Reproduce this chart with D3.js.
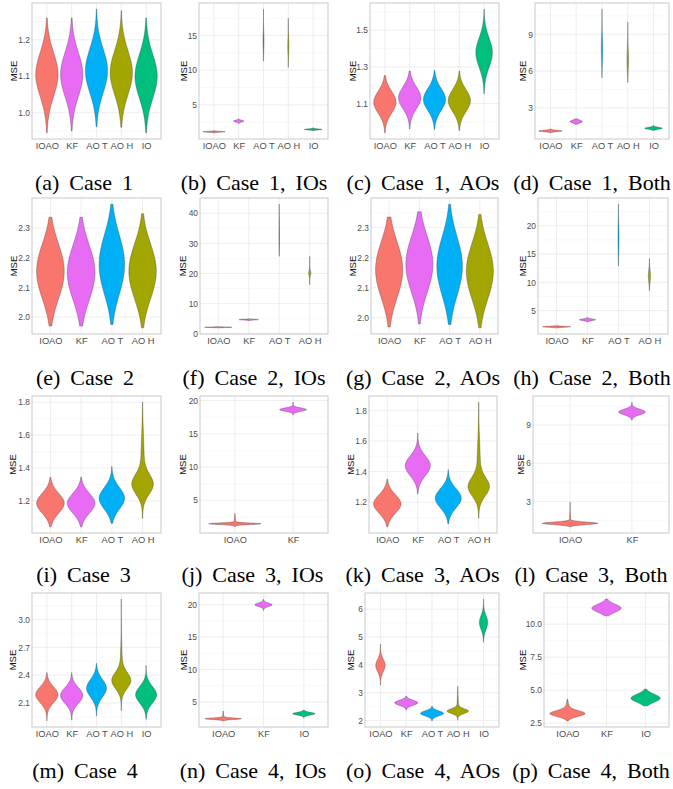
<!DOCTYPE html>
<html><head><meta charset="utf-8">
<script src="https://cdn.jsdelivr.net/npm/d3@7"></script>
<style>html,body{margin:0;padding:0;background:#fff;}</style>
</head><body>
<script>
// ---- DATA: each violin = [category, min, max, density components [centre, spread, weight]] ----
const captions = ["(a) Case 1","(b) Case 1, IOs","(c) Case 1, AOs","(d) Case 1, Both",
  "(e) Case 2","(f) Case 2, IOs","(g) Case 2, AOs","(h) Case 2, Both",
  "(i) Case 3","(j) Case 3, IOs","(k) Case 3, AOs","(l) Case 3, Both",
  "(m) Case 4","(n) Case 4, IOs","(o) Case 4, AOs","(p) Case 4, Both"];
const yTitle = "MSE";

const violinsA = [["IOAO",0.945,1.26,[[1.105,0.06,1]]],["KF",0.95,1.26,[[1.105,0.06,1]]],["AO T",0.962,1.284,[[1.115,0.06,1]]],["AO H",0.96,1.28,[[1.11,0.06,1]]],["IO",0.945,1.26,[[1.10,0.06,1]]]];
const ticksA = ["1.0","1.1","1.2"];
const violinsB = [["IOAO",0.96,1.27,[[1.11,0.06,1]]],["KF",2.3,3.0,[[2.65,0.13,1]]],["AO T",11.3,18.8,[[14.2,1.3,1]]],["AO H",10.4,17.5,[[13.5,1.2,1]]],["IO",1.25,1.7,[[1.45,0.075,1]]]];
const ticksB = ["5","10","15"];
const violinsC = [["IOAO",0.94,1.253,[[1.107,0.06,1]]],["KF",0.961,1.277,[[1.131,0.06,1]]],["AO T",0.958,1.281,[[1.122,0.06,1]]],["AO H",0.952,1.277,[[1.116,0.06,1]]],["IO",1.153,1.615,[[1.378,0.08,1]]]];
const ticksC = ["1.1","1.3","1.5"];
const violinsD = [["IOAO",0.96,1.27,[[1.11,0.06,1]]],["KF",1.65,2.1,[[1.88,0.12,1]]],["AO T",5.44,11.05,[[7.77,1.0,1]]],["AO H",5.08,10.0,[[6.95,0.9,1]]],["IO",1.15,1.55,[[1.33,0.08,1]]]];
const ticksD = ["3","6","9"];
const violinsE = [["IOAO",1.97,2.336,[[2.094,0.07,0.33],[2.154,0.07,0.34],[2.214,0.07,0.33]]],["KF",1.97,2.336,[[2.09,0.07,0.33],[2.15,0.07,0.34],[2.21,0.07,0.33]]],["AO T",1.975,2.38,[[2.112,0.075,0.33],[2.177,0.075,0.34],[2.242,0.075,0.33]]],["AO H",1.964,2.348,[[2.094,0.07,0.33],[2.154,0.07,0.34],[2.214,0.07,0.33]]]];
const ticksE = ["2.0","2.1","2.2","2.3"];
const violinsF = [["IOAO",1.97,2.336,[[2.094,0.07,0.33],[2.154,0.07,0.34],[2.214,0.07,0.33]]],["KF",4.3,5.05,[[4.68,0.12,1]]],["AO T",25.7,43.0,[[32.5,4,1]]],["AO H",16.3,25.7,[[20.1,0.8,0.6],[20.5,2.2,0.4]]]];
const ticksF = ["0","10","20","30","40"];
const violinsG = [["IOAO",1.97,2.335,[[2.10,0.07,0.33],[2.16,0.07,0.34],[2.22,0.07,0.33]]],["KF",1.98,2.353,[[2.118,0.07,0.33],[2.178,0.07,0.34],[2.238,0.07,0.33]]],["AO T",1.978,2.378,[[2.11,0.075,0.33],[2.172,0.075,0.34],[2.234,0.075,0.33]]],["AO H",1.967,2.344,[[2.095,0.07,0.33],[2.155,0.07,0.34],[2.215,0.07,0.33]]]];
const ticksG = ["2.0","2.1","2.2","2.3"];
const violinsH = [["IOAO",1.97,2.336,[[2.094,0.07,0.33],[2.154,0.07,0.34],[2.214,0.07,0.33]]],["KF",3.0,3.8,[[3.39,0.15,1]]],["AO T",12.86,23.8,[[17.8,2.5,1]]],["AO H",8.5,14.2,[[11.1,1.1,1]]]];
const ticksH = ["5","10","15","20"];
const violinsI = [["IOAO",1.043,1.344,[[1.186,0.06,1]]],["KF",1.043,1.344,[[1.186,0.06,1]]],["AO T",1.064,1.41,[[1.216,0.065,1]]],["AO H",1.094,1.80,[[1.30,0.06,0.72],[1.45,0.15,0.28]]]];
const ticksI = ["1.2","1.4","1.6","1.8"];
const violinsJ = [["IOAO",1.0,3.0,[[1.45,0.12,0.92],[1.9,0.45,0.08]]],["KF",17.84,19.75,[[18.64,0.25,1]]]];
const ticksJ = ["5","10","15","20"];
const violinsK = [["IOAO",1.04,1.351,[[1.189,0.06,1]]],["KF",1.254,1.652,[[1.438,0.065,1]]],["AO T",1.058,1.412,[[1.226,0.063,1]]],["AO H",1.095,1.853,[[1.30,0.06,0.72],[1.45,0.15,0.28]]]];
const ticksK = ["1.2","1.4","1.6","1.8"];
const violinsL = [["IOAO",1.0,2.94,[[1.27,0.1,0.93],[1.6,0.4,0.07]]],["KF",9.39,10.8,[[10.03,0.22,1]]]];
const ticksL = ["3","6","9"];
const violinsM = [["IOAO",1.906,2.427,[[2.188,0.085,1]]],["KF",1.916,2.427,[[2.18,0.085,1]]],["AO T",1.958,2.526,[[2.258,0.095,1]]],["AO H",2.016,3.22,[[2.34,0.085,0.8],[2.5,0.2,0.2]]],["IO",1.924,2.505,[[2.188,0.09,1]]]];
const ticksM = ["2.1","2.4","2.7","3.0"];
const violinsN = [["IOAO",2.09,3.6,[[2.42,0.12,0.9],[2.7,0.35,0.1]]],["KF",19.1,20.86,[[19.98,0.27,1]]],["IO",2.6,3.77,[[3.2,0.21,1]]]];
const ticksN = ["5","10","15","20"];
const violinsO = [["IOAO",3.27,4.75,[[3.98,0.22,1]]],["KF",2.38,2.88,[[2.64,0.09,1]]],["AO T",1.99,2.52,[[2.26,0.09,1]]],["AO H",2.02,3.23,[[2.34,0.085,0.85],[2.6,0.25,0.15]]],["IO",4.81,6.36,[[5.52,0.25,1]]]];
const ticksO = ["2","3","4","5","6"];
const violinsP = [["IOAO",2.67,4.32,[[3.22,0.22,0.85],[3.6,0.4,0.15]]],["KF",10.63,11.9,[[11.21,0.3,1]]],["IO",3.81,5.08,[[4.39,0.3,1]]]];
const ticksP = ["2.5","5.0","7.5","10.0"];

const colors = {"IOAO":"#F8766D","KF":"#E76BF3","AO T":"#00B0F6","AO H":"#A3A500","IO":"#00BF7D"};

// ---- LAYOUT (pixel positions) ----
// [left, right, top, bottom, yTitleX, captionX, captionBaseline]
const layout = [
  [32,161,3,139,13.5,84,190],[199,328,3,139,183.5,254,190],[370,499,3,139,352.5,423,190],[535,669,3,139,522.5,592,190],
  [32,161,198,334,13.5,85,385],[200,328,198,334,183,254,385],[371,498,198,334,352.5,423,385],[538,668,198,334,522.5,592,385],
  [32,161,396,533,13,83.5,582],[200,328,396,533,183,252.5,582],[369,497,396,533,351,422.5,582],[533,669,396,533,521,591,582],
  [32,161,593,727,13,85,778],[199,328,593,727,183.5,253,778],[365,499,593,727,351,423,778],[544,669,593,727,522.5,591,778]
];
const panelViolins = [violinsA,violinsB,violinsC,violinsD,violinsE,violinsF,violinsG,violinsH,violinsI,violinsJ,violinsK,violinsL,violinsM,violinsN,violinsO,violinsP];
const panelTicks = [ticksA,ticksB,ticksC,ticksD,ticksE,ticksF,ticksG,ticksH,ticksI,ticksJ,ticksK,ticksL,ticksM,ticksN,ticksO,ticksP];

const W = 673, H = 789;
const svg = d3.select("body").append("svg").attr("width", W).attr("height", H)
  .style("font-family", "'Liberation Sans', Arial, Helvetica, sans-serif");
svg.append("rect").attr("width", W).attr("height", H).attr("fill", "#fff");

function densityProfile(v) {
  const [cat, lo, hi, comps] = v;
  const n = 160, pts = [];
  for (let i = 0; i <= n; i++) {
    const y = lo + (hi - lo) * i / n;
    let d = 0;
    for (const [mu, sd, w] of comps) {
      const z = (y - mu) / sd;
      d += w * Math.exp(-0.5 * z * z) / (sd * Math.sqrt(2 * Math.PI));
    }
    pts.push({y, d});
  }
  let area = 0;
  for (let i = 1; i < pts.length; i++) area += (pts[i].d + pts[i-1].d) / 2 * (pts[i].y - pts[i-1].y);
  pts.forEach(p => p.d /= area);
  return pts;
}

panelViolins.forEach((violins, pi) => {
  const [L, R, T, B, tx, cx, cy] = layout[pi];
  const ticks = panelTicks[pi];
  const cats = violins.map(v => v[0]);
  const g = svg.append("g");

  const x = d3.scalePoint().domain(cats).range([L, R]).padding(0.6);
  const lo = d3.min(violins, v => v[1]), hi = d3.max(violins, v => v[2]);
  const r = hi - lo;
  const y = d3.scaleLinear().domain([lo - 0.05 * r, hi + 0.05 * r]).range([B, T]);

  // grid
  const tv = ticks.map(Number);
  const st = tv[1] - tv[0];
  const minors = [tv[0] - st / 2];
  tv.forEach(t => minors.push(t + st / 2));
  const [d0, d1] = y.domain();
  g.selectAll(".mn").data(minors.filter(m => m > d0 && m < d1)).join("line")
    .attr("x1", L).attr("x2", R).attr("y1", d => y(d)).attr("y2", d => y(d))
    .attr("stroke", "#f2f2f2").attr("stroke-width", 0.5);
  g.selectAll(".mj").data(tv).join("line")
    .attr("x1", L).attr("x2", R).attr("y1", d => y(d)).attr("y2", d => y(d))
    .attr("stroke", "#e6e6e6").attr("stroke-width", 0.7);
  g.selectAll(".vx").data(cats).join("line")
    .attr("x1", d => x(d)).attr("x2", d => x(d)).attr("y1", T).attr("y2", B)
    .attr("stroke", "#e6e6e6").attr("stroke-width", 0.7);

  // violins (area-scaled like ggplot)
  const profiles = violins.map(densityProfile);
  const maxD = d3.max(profiles, p => d3.max(p, q => q.d));
  const half = 0.45 * x.step();
  violins.forEach((v, i) => {
    const c = x(v[0]);
    const area = d3.area()
      .y(p => y(p.y))
      .x0(p => c - p.d / maxD * half)
      .x1(p => c + p.d / maxD * half);
    g.append("path").attr("d", area(profiles[i]))
      .attr("fill", colors[v[0]]).attr("stroke", "#3a3a3a").attr("stroke-width", 0.35);
  });

  // border
  g.append("rect").attr("x", L).attr("y", T).attr("width", R - L).attr("height", B - T)
    .attr("fill", "none").attr("stroke", "#c4c4c4").attr("stroke-width", 0.9);

  // axes
  const ya = g.append("g").attr("transform", `translate(${L},0)`)
    .call(d3.axisLeft(y).tickValues(tv).tickFormat((d, i) => ticks[i]).tickSize(0).tickPadding(2));
  ya.select(".domain").remove();
  ya.selectAll("text").attr("fill", "#4d4d4d").attr("font-size", 8.4).attr("font-family", null);

  const xa = g.append("g").attr("transform", `translate(0,${B})`)
    .call(d3.axisBottom(x).tickSize(0).tickPadding(3.5));
  xa.select(".domain").remove();
  xa.selectAll("text").attr("fill", "#4d4d4d").attr("font-size", 9.3).attr("font-family", null);

  g.append("text").attr("transform", `translate(${tx + 3.4},${(T + B) / 2}) rotate(-90)`)
    .attr("text-anchor", "middle")
    .attr("font-size", 9.5).attr("fill", "#111").text(yTitle);

  svg.append("text").attr("x", cx).attr("y", cy).attr("text-anchor", "middle")
    .attr("font-family", "'Liberation Serif', 'Times New Roman', serif")
    .attr("font-size", 22).attr("word-spacing", "4.5px").attr("fill", "#000")
    .text(captions[pi]);
});
</script>
</body></html>
